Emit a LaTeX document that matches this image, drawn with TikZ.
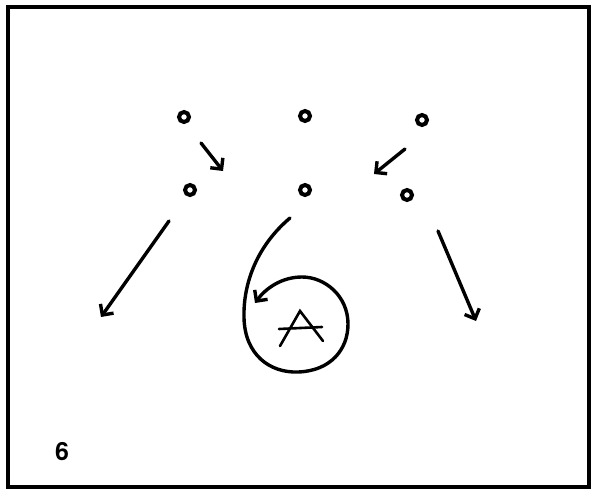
\documentclass[tikz,border=0pt]{standalone}
\usepackage{fontspec}
\setsansfont{TeX Gyre Heros}
\usetikzlibrary{arrows.meta}
\begin{document}
\begin{tikzpicture}[x=1pt,y=-1pt,
  player/.style={circle,draw,line width=4pt,minimum size=10pt,inner sep=0pt},
  move/.style={line width=3.4pt,line cap=round,-{Straight Barb[length=8pt,width=16pt,line width=3.4pt]}},
  frame/.style={line width=3.6pt},
  thin/.style={line width=2.6pt,line cap=round}]
\useasboundingbox (0,0) rectangle (605,495);
\draw[frame] (8,7) rectangle (589,487);
% players
\node[player] (p1) at (184,117) {};
\node[player] (p2) at (305,116) {};
\node[player] (p3) at (422,120) {};
\node[player] (p4) at (190,190) {};
\node[player] (p5) at (305,190) {};
\node[player] (p6) at (407,195) {};
% arrow endpoints
\coordinate (a1s) at (201,143); \coordinate (a1e) at (223,171);
\coordinate (a2s) at (405,149); \coordinate (a2e) at (374,174);
\coordinate (a3s) at (169,221); \coordinate (a3e) at (101,317);
\coordinate (a4s) at (438,231); \coordinate (a4e) at (476,321);
\coordinate (cs) at (290,218); \coordinate (ce) at (255,303);
\draw[move] (a1s) -- (a1e);
\draw[move] (a2s) -- (a2e);
\draw[move] (a3s) -- (a3e);
\draw[move] (a4s) -- (a4e);
\draw[move] (cs) .. controls (258,245) and (243,282) .. (244,318)
  .. controls (245,355) and (270,373) .. (298,372)
  .. controls (330,371) and (348,350) .. (348,324)
  .. controls (348,296) and (325,277) .. (302,277)
  .. controls (282,277) and (266,288) .. (ce);
% A
\node[inner sep=0pt] (A) at (301,327) {};
\draw[thin] (280,346) -- (300,311) -- (323,341);
\draw[thin] (279,329) -- (322,327);
\node[font=\sffamily\bfseries,inner sep=0pt] (six) at (62,452) {\fontsize{25}{25}\selectfont 6};
\end{tikzpicture}
\end{document}
